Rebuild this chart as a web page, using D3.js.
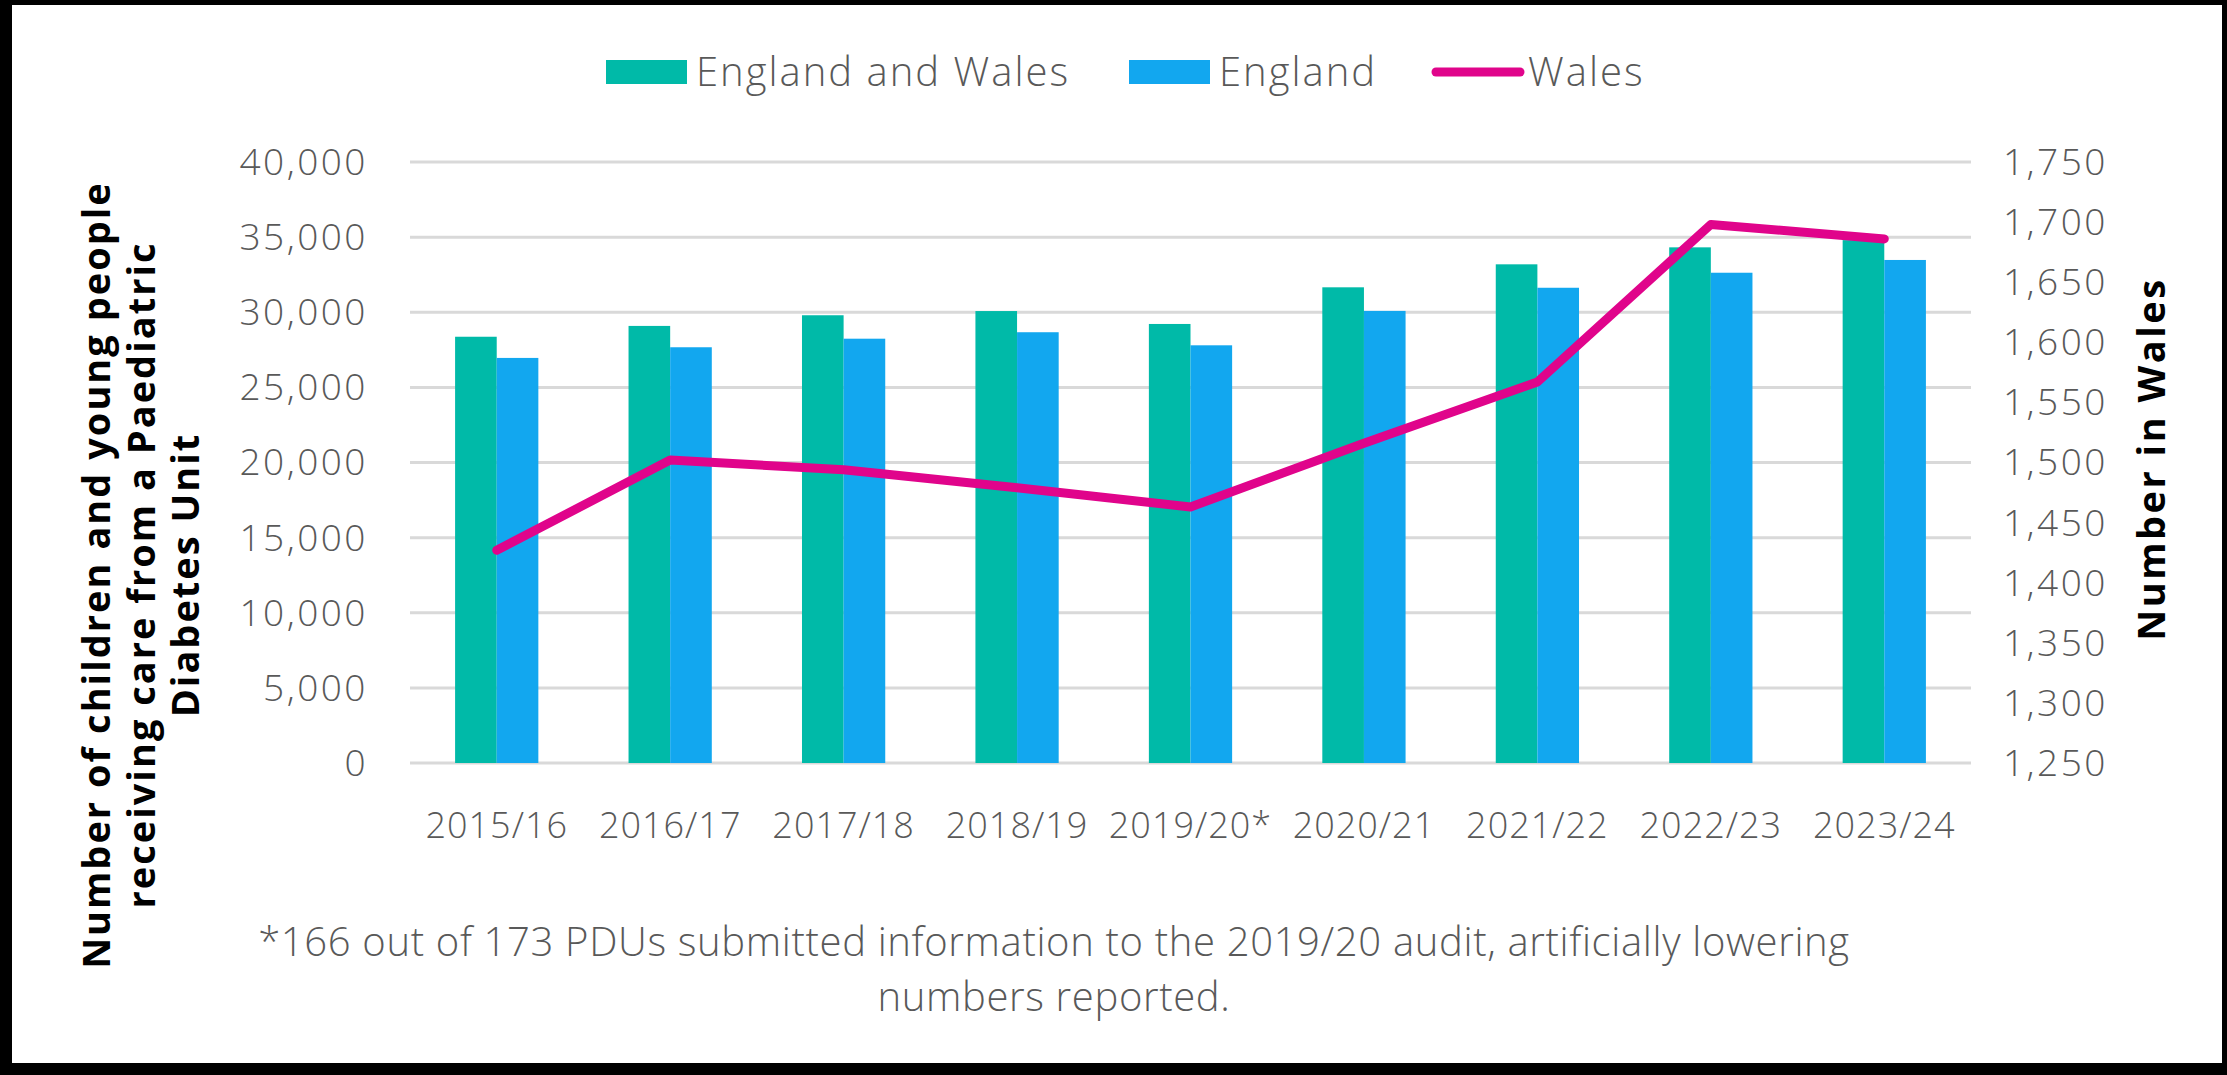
<!DOCTYPE html>
<html>
<head>
  <meta charset="utf-8">
  <title>children and young people receiving care</title>
  <script src="https://d3js.org/d3.v7.min.js"></script>
  <style>
    html, body { margin: 0; padding: 0; background: #000; }
    svg { display: block; }
    .tick-lbl { font-family: "Open Sans", sans-serif; font-weight: 300; fill: #595959; }
    .ttl { font-family: "Open Sans", sans-serif; font-weight: 700; fill: #000; }
  </style>
</head>
<body>
<div id="chart"></div>
<script>
// data
var years = ["2015/16", "2016/17", "2017/18", "2018/19", "2019/20*", "2020/21", "2021/22", "2022/23", "2023/24"];
var englandWales = [28370, 29090, 29800, 30080, 29220, 31660, 33190, 34320, 34800];
var england = [26960, 27670, 28240, 28670, 27800, 30090, 31630, 32630, 33480];
var wales = [1427, 1502, 1494, 1479, 1463, 1516, 1567, 1698, 1686];
var leftTicks = [0, 5000, 10000, 15000, 20000, 25000, 30000, 35000, 40000];
var rightTicks = [1250, 1300, 1350, 1400, 1450, 1500, 1550, 1600, 1650, 1700, 1750];
var seriesNames = ["England and Wales", "England", "Wales"];
var colors = { ew: "#00BAA8", en: "#12A7EF", wa: "#E0048B" };

var W = 2227, H = 1075;
var plotL = 410, plotR = 1971, plotT = 162, plotB = 763;

var svg = d3.select("#chart").append("svg")
  .attr("width", W).attr("height", H);

// white card with the black frame round it
svg.append("rect").attr("x", 12).attr("y", 5)
  .attr("width", 2210).attr("height", 1058).attr("fill", "#fff");

var y = d3.scaleLinear().domain([0, 40000]).range([plotB, plotT]);
var y2 = d3.scaleLinear().domain([1250, 1750]).range([plotB, plotT]);
var x0 = d3.scaleBand().domain(years).range([plotL, plotR])
  .paddingInner(0.52).paddingOuter(0.26);
var x1 = d3.scaleBand().domain(["ew", "en"]).range([0, x0.bandwidth()]);

var fmt = d3.format(",");

// gridlines
svg.append("g").selectAll("line").data(leftTicks).enter().append("line")
  .attr("x1", plotL).attr("x2", plotR)
  .attr("y1", function (d) { return y(d); })
  .attr("y2", function (d) { return y(d); })
  .attr("stroke", "#d9d9d9").attr("stroke-width", 3);

// left axis labels
svg.append("g").selectAll("text").data(leftTicks).enter().append("text")
  .attr("class", "tick-lbl")
  .attr("x", 368).attr("y", function (d) { return y(d); })
  .attr("dy", "0.35em").attr("text-anchor", "end")
  .style("font-size", "37px").style("letter-spacing", "2.5px")
  .text(function (d) { return fmt(d); });

// right axis labels
svg.append("g").selectAll("text").data(rightTicks).enter().append("text")
  .attr("class", "tick-lbl")
  .attr("x", 2003).attr("y", function (d) { return y2(d); })
  .attr("dy", "0.35em").attr("text-anchor", "start")
  .style("font-size", "37px").style("letter-spacing", "2.5px")
  .text(function (d) { return fmt(d); });

// bars
var groups = svg.append("g").selectAll("g").data(years).enter().append("g")
  .attr("transform", function (d) { return "translate(" + x0(d) + ",0)"; });

groups.append("rect")
  .attr("x", x1("ew")).attr("width", x1.bandwidth())
  .attr("y", function (d, i) { return y(englandWales[i]); })
  .attr("height", function (d, i) { return plotB - y(englandWales[i]); })
  .attr("fill", colors.ew);

groups.append("rect")
  .attr("x", x1("en")).attr("width", x1.bandwidth())
  .attr("y", function (d, i) { return y(england[i]); })
  .attr("height", function (d, i) { return plotB - y(england[i]); })
  .attr("fill", colors.en);

// Wales line on right axis
var line = d3.line()
  .x(function (d, i) { return x0(years[i]) + x0.bandwidth() / 2; })
  .y(function (d) { return y2(d); });

svg.append("path").datum(wales)
  .attr("d", line)
  .attr("fill", "none").attr("stroke", colors.wa)
  .attr("stroke-width", 9).attr("stroke-linejoin", "round").attr("stroke-linecap", "round");

// x labels
svg.append("g").selectAll("text").data(years).enter().append("text")
  .attr("class", "tick-lbl")
  .attr("x", function (d) { return x0(d) + x0.bandwidth() / 2; })
  .attr("y", 825).attr("dy", "0.35em").attr("text-anchor", "middle")
  .style("font-size", "36px").style("letter-spacing", "1px")
  .text(function (d) { return d; });

// legend
var leg = svg.append("g");
leg.append("rect").attr("x", 606).attr("y", 60).attr("width", 81).attr("height", 24).attr("fill", colors.ew);
leg.append("text").attr("class", "tick-lbl").attr("x", 696).attr("y", 72).attr("dy", "0.35em")
  .style("font-size", "40px").style("letter-spacing", "2px").text(seriesNames[0]);
leg.append("rect").attr("x", 1129).attr("y", 60).attr("width", 81).attr("height", 24).attr("fill", colors.en);
leg.append("text").attr("class", "tick-lbl").attr("x", 1219).attr("y", 72).attr("dy", "0.35em")
  .style("font-size", "40px").style("letter-spacing", "2px").text(seriesNames[1]);
leg.append("line").attr("x1", 1436).attr("x2", 1520).attr("y1", 72).attr("y2", 72)
  .attr("stroke", colors.wa).attr("stroke-width", 9).attr("stroke-linecap", "round");
leg.append("text").attr("class", "tick-lbl").attr("x", 1528).attr("y", 72).attr("dy", "0.35em")
  .style("font-size", "40px").style("letter-spacing", "2px").text(seriesNames[2]);

// left axis title, three lines
var leftTitle = ["Number of children and young people", "receiving care from a Paediatric", "Diabetes Unit"];
var ltx = [97, 142, 186];
svg.append("g").selectAll("text").data(leftTitle).enter().append("text")
  .attr("class", "ttl")
  .attr("transform", function (d, i) { return "translate(" + ltx[i] + ",575) rotate(-90)"; })
  .attr("text-anchor", "middle").attr("dy", "0.35em")
  .style("font-size", "38px").style("letter-spacing", "2px")
  .text(function (d) { return d; });

// right axis title
svg.append("text").attr("class", "ttl")
  .attr("transform", "translate(2152,459) rotate(-90)")
  .attr("text-anchor", "middle").attr("dy", "0.35em")
  .style("font-size", "38px").style("letter-spacing", "2.5px")
  .text("Number in Wales");

// footnote
var notes = ["*166 out of 173 PDUs submitted information to the 2019/20 audit, artificially lowering", "numbers reported."];
svg.append("g").selectAll("text").data(notes).enter().append("text")
  .attr("class", "tick-lbl")
  .attr("x", 1054).attr("y", function (d, i) { return 942 + i * 55; })
  .attr("dy", "0.35em").attr("text-anchor", "middle")
  .style("font-size", "40px").style("letter-spacing", "0.65px")
  .text(function (d) { return d; });
</script>
</body>
</html>
